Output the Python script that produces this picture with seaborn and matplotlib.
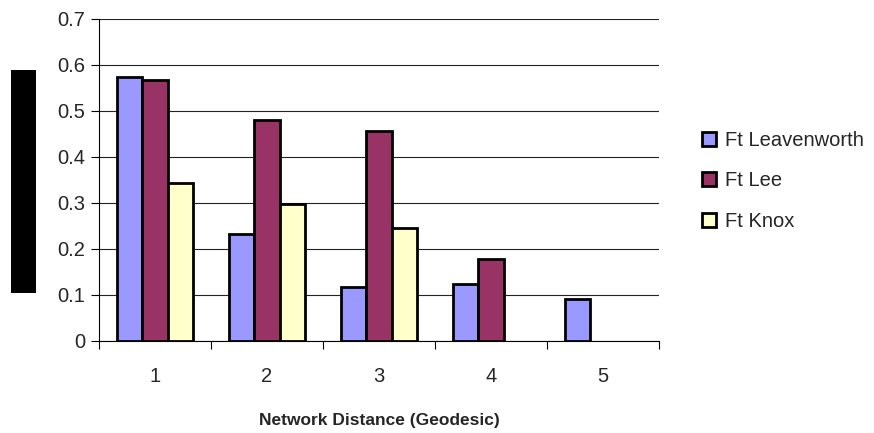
import numpy as np
import pandas as pd
import matplotlib
matplotlib.use('Agg')
import matplotlib.pyplot as plt
import seaborn as sns
from matplotlib.patches import Rectangle

distances = ['1', '2', '3', '4', '5']
forts = ['Ft Leavenworth', 'Ft Lee', 'Ft Knox']
leavenworth = [0.575, 0.232, 0.118, 0.125, 0.092]
lee = [0.568, 0.481, 0.456, 0.178, np.nan]
knox = [0.344, 0.298, 0.245, np.nan, np.nan]
colors = ['#9999FF', '#993366', '#FFFFCC']

df = pd.DataFrame({
    'distance': distances * 3,
    'fort': [f for f in forts for _ in distances],
    'value': leavenworth + lee + knox,
})

sns.set_style('white')
plt.rcParams['font.family'] = ['Liberation Sans', 'DejaVu Sans']

fig = plt.figure(figsize=(8.74, 4.33), dpi=100)
ax = fig.add_axes([99 / 874, 92 / 433, 560 / 874, 322 / 433])

sns.barplot(data=df, x='distance', y='value', hue='fort', hue_order=forts,
            order=distances, palette=colors, saturation=1, width=0.67, gap=0,
            edgecolor='black', linewidth=2.0, errorbar=None, ax=ax, zorder=3)

ax.set_xlim(-0.5, 4.5)
ax.set_ylim(0, 0.7)
ax.set_yticks(np.arange(0, 0.71, 0.1))
ax.set_yticklabels(['0', '0.1', '0.2', '0.3', '0.4', '0.5', '0.6', '0.7'])
ax.yaxis.grid(True, color='#222222', linewidth=0.8)
ax.set_axisbelow(True)

ax.set_xticks(np.arange(-0.5, 4.6, 1), minor=True)
ax.tick_params(axis='x', which='major', length=0, pad=19, labelsize=14.5)
ax.tick_params(axis='x', which='minor', length=6, width=0.8, color='black', direction='out', bottom=True)
ax.tick_params(axis='y', length=6, width=0.8, color='black', direction='out', left=True, labelsize=14.5, pad=4)

for side in ['top', 'right']:
    ax.spines[side].set_visible(False)
for side in ['left', 'bottom']:
    ax.spines[side].set_color('black')
    ax.spines[side].set_linewidth(0.8)

ax.set_ylabel('')
ax.set_xlabel('Network Distance (Geodesic)', fontsize=12.5, fontweight='bold', labelpad=19)

ax.legend(loc='center left', bbox_to_anchor=(702 / 874, 252 / 433), bbox_transform=fig.transFigure,
          frameon=False, fontsize=14.5, handlelength=0.7, handleheight=0.7,
          handletextpad=0.45, labelspacing=1.05, borderpad=0, borderaxespad=0)

# redacted y-axis label
fig.patches.append(Rectangle((11 / 874, (433 - 293) / 433), 25 / 874, 223 / 433,
                             transform=fig.transFigure, facecolor='black', edgecolor='none'))

fig.savefig('out.png', dpi=100)
